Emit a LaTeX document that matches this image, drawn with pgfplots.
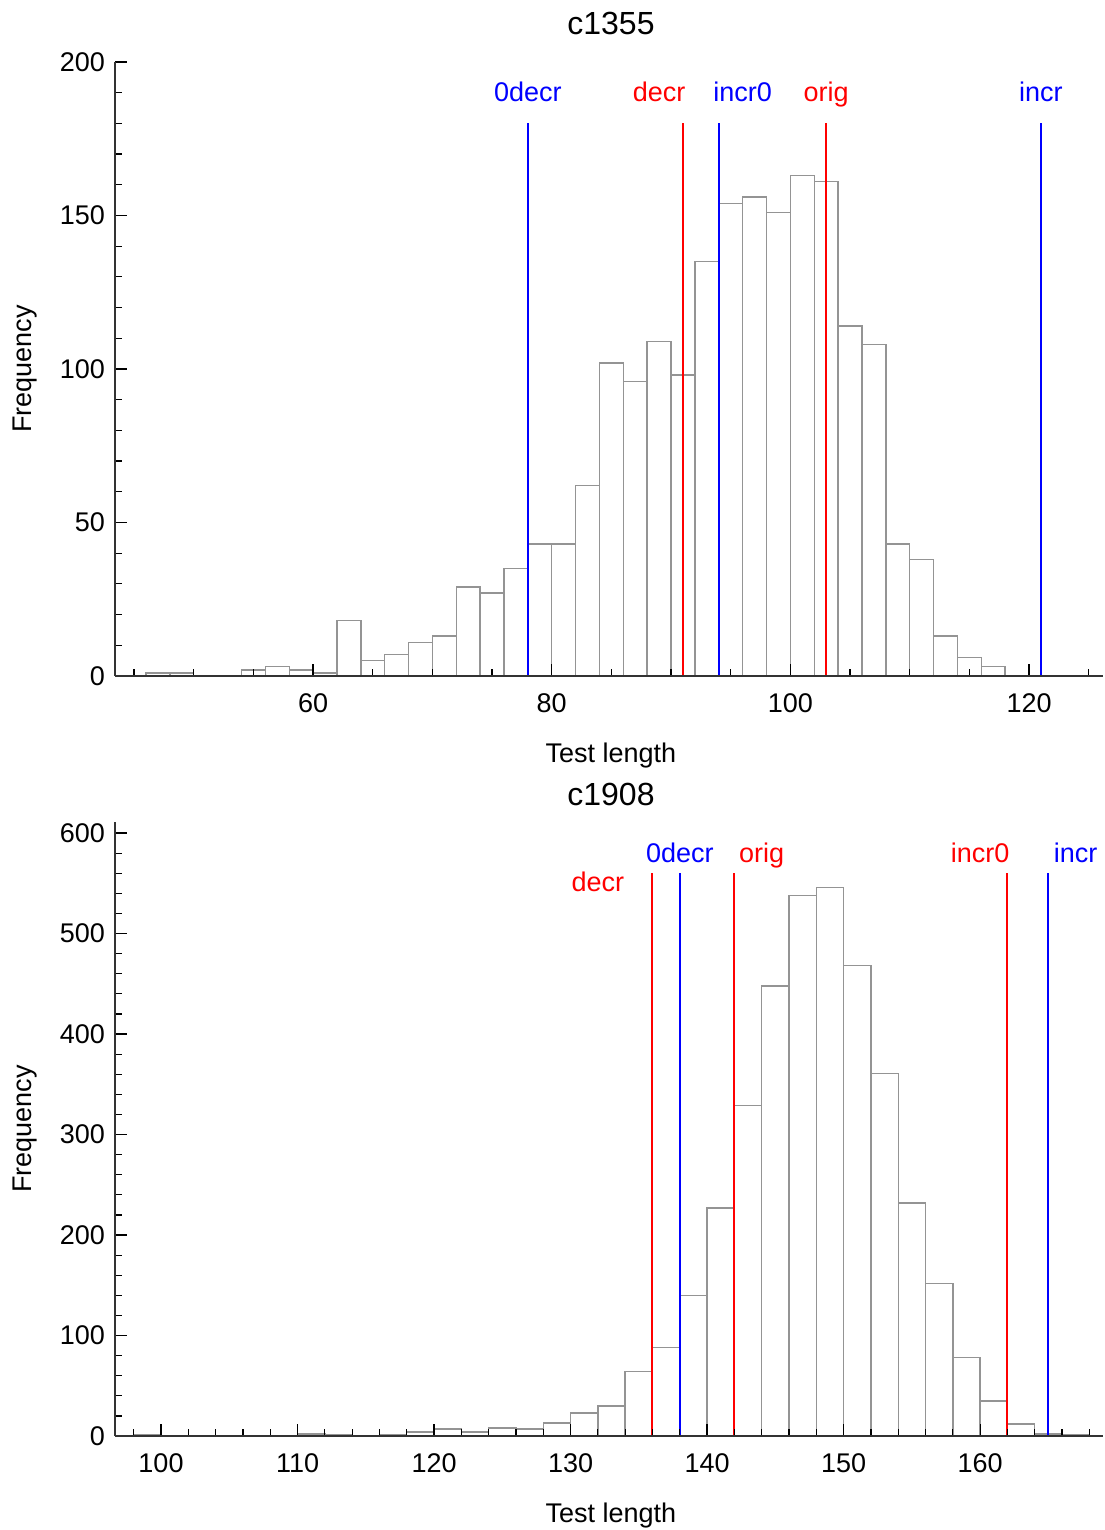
\documentclass[border=0pt]{standalone}
\usepackage{fontspec}
\setmainfont{Liberation Sans}
\usepackage{pgfplots}
\pgfplotsset{compat=1.18}

\pgfplotsset{
  histo/.style={
    scale only axis, width=494pt, height=307pt,
    axis lines*=left, tick align=inside,
    axis line style={black!80, line width=0.7pt},
    every tick/.style={black, line width=0.6pt},
    major tick length=6pt, minor tick length=3.5pt,
    ymin=0, axis on top, clip=false,
    /pgf/number format/assume math mode=true,
    tick label style={font=\fontsize{13.5}{16}\selectfont},
    xticklabel style={yshift=-5.2pt},
    yticklabel style={xshift=-1.5pt},
    ylabel={Frequency}, xlabel={Test length},
    every axis y label/.style={at={(axis description cs:-0.091,0.5)}, rotate=90, anchor=center,
      font=\fontsize{13.5}{16}\selectfont},
    every axis x label/.style={at={(axis description cs:0.502,-0.129)}, anchor=center,
      font=\fontsize{13.5}{16}\selectfont},
  },
  bars/.style={ybar interval, draw=black!42, fill=white, line width=0.7pt},
}
\tikzset{lab/.style={anchor=base, font=\fontsize{13.5}{16}\selectfont}}

\begin{document}
\begin{tikzpicture}
\path[use as bounding box] (-57.5pt,-427pt) rectangle (494.5pt,338pt);

% c1355
\begin{axis}[histo, at={(0,0)}, anchor=south west,
    xmin=43.4, xmax=126.2, ymax=200,
    xtick={60,80,100,120}, minor xtick={45,50,...,125},
    ytick={0,50,...,200}, minor ytick={10,20,...,190},
    title={c1355},
    every axis title/.style={at={(axis description cs:0.502,1.0635)}, anchor=center,
      font=\fontsize{16}{19}\selectfont},
]
\addplot[bars] coordinates {(46,1) (48,1) (50,0)};
\addplot[bars] coordinates {
  (54,2) (56,3) (58,2) (60,1) (62,18) (64,5) (66,7) (68,11) (70,13)
  (72,29) (74,27) (76,35) (78,43) (80,43) (82,62) (84,102) (86,96)
  (88,109) (90,98) (92,135) (94,154) (96,156) (98,151) (100,163)
  (102,161) (104,114) (106,108) (108,43) (110,38) (112,13) (114,6)
  (116,3) (118,0)};
\addplot[blue, line width=1pt] coordinates {(78,0) (78,180)};
\addplot[red, line width=1pt] coordinates {(91,0) (91,180)};
\addplot[blue, line width=1pt] coordinates {(94,0) (94,180)};
\addplot[red, line width=1pt] coordinates {(103,0) (103,180)};
\addplot[blue, line width=1pt] coordinates {(121,0) (121,180)};
\node[lab, blue] at (axis cs:78,187) {0decr};
\node[lab, red]  at (axis cs:89,187) {decr};
\node[lab, blue] at (axis cs:96,187) {incr0};
\node[lab, red]  at (axis cs:103,187) {orig};
\node[lab, blue] at (axis cs:121,187) {incr};
\end{axis}

% c1908
\begin{axis}[histo, at={(0,-380pt)}, anchor=south west,
    xmin=96.63, xmax=169.0, ymax=611,
    xtick={100,110,...,160}, minor xtick={98,100,...,168},
    ytick={0,100,...,600}, minor ytick={20,40,...,600},
    title={c1908},
    every axis title/.style={at={(axis description cs:0.502,1.044)}, anchor=center,
      font=\fontsize{16}{19}\selectfont},
]
\addplot[bars] coordinates {(98,1) (100,0)};
\addplot[bars] coordinates {(110,2) (112,1) (114,0)};
\addplot[bars] coordinates {
  (116,1) (118,4) (120,7) (122,4) (124,8) (126,7) (128,13) (130,23)
  (132,30) (134,64) (136,88) (138,140) (140,227) (142,329) (144,448)
  (146,538) (148,546) (150,468) (152,361) (154,232) (156,152) (158,78)
  (160,35) (162,12) (164,2) (166,1) (168,0)};
\addplot[red, line width=1pt] coordinates {(136,0) (136,560)};
\addplot[blue, line width=1pt] coordinates {(138,0) (138,560)};
\addplot[red, line width=1pt] coordinates {(142,0) (142,560)};
\addplot[red, line width=1pt] coordinates {(162,0) (162,560)};
\addplot[blue, line width=1pt] coordinates {(165,0) (165,560)};
\node[lab, red]  at (axis cs:132,542) {decr};
\node[lab, blue] at (axis cs:138,571) {0decr};
\node[lab, red]  at (axis cs:144,571) {orig};
\node[lab, red]  at (axis cs:160,571) {incr0};
\node[lab, blue] at (axis cs:167,571) {incr};
\end{axis}
\end{tikzpicture}
\end{document}
